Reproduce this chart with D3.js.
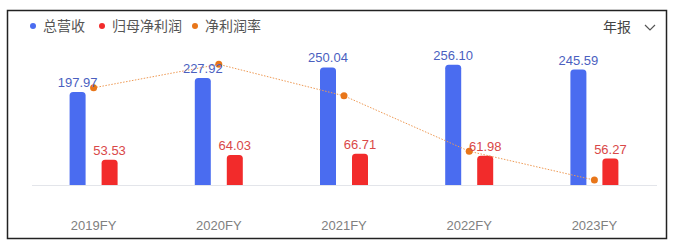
<!DOCTYPE html>
<html>
<head>
<meta charset="utf-8">
<script src="https://cdn.jsdelivr.net/npm/d3@7"></script>
<style>
  body { margin: 0; background: #fff; }
  text { font-family: Arial, "Liberation Sans", "Noto Sans CJK SC", sans-serif; }
</style>
</head>
<body>
<div id="chart"></div>
<script>
// data
var years = ["2019FY", "2020FY", "2021FY", "2022FY", "2023FY"];
var revenue = [197.97, 227.92, 250.04, 256.10, 245.59];
var netProfit = [53.53, 64.03, 66.71, 61.98, 56.27];
var netMargin = [27.04, 28.09, 26.68, 24.20, 22.91];
var legendNames = ["总营收", "归母净利润", "净利润率"];

var width = 673, height = 244;
var colors = { rev: "#4a6cf0", net: "#f22b2b", rate: "#e8761a" };

var svg = d3.select("#chart").append("svg")
  .attr("width", width)
  .attr("height", height);

// frame
svg.append("rect")
  .attr("x", 7.5).attr("y", 10.5)
  .attr("width", 659).attr("height", 228)
  .attr("fill", "#fff")
  .attr("stroke", "#222")
  .attr("stroke-width", 1.5);

var x = d3.scaleBand().domain(years).range([31, 657]);
var y = d3.scaleLinear().domain([0, 300]).range([185, 44]);
var yRate = d3.scaleLinear().domain([22.69, 29.0]).range([185, 44]);

var barW = 16, gap = 16;

// baseline
svg.append("line")
  .attr("x1", 32).attr("x2", 657)
  .attr("y1", y(0) + 0.5).attr("y2", y(0) + 0.5)
  .attr("stroke", "#e3e5ea");

// rounded-top bar path
function barPath(x0, top, w, bottom, r) {
  r = Math.min(r, (bottom - top));
  return "M" + x0 + "," + bottom +
    "V" + (top + r) +
    "Q" + x0 + "," + top + " " + (x0 + r) + "," + top +
    "H" + (x0 + w - r) +
    "Q" + (x0 + w) + "," + top + " " + (x0 + w) + "," + (top + r) +
    "V" + bottom + "Z";
}

function center(i) { return x(years[i]) + x.bandwidth() / 2; }

// revenue bars
svg.append("g").selectAll("path")
  .data(revenue).join("path")
  .attr("d", function (d, i) {
    return barPath(center(i) - gap / 2 - barW, y(d), barW, y(0), 3.5);
  })
  .attr("fill", colors.rev);

// net profit bars
svg.append("g").selectAll("path")
  .data(netProfit).join("path")
  .attr("d", function (d, i) {
    return barPath(center(i) + gap / 2, y(d), barW, y(0), 3.5);
  })
  .attr("fill", colors.net);

// margin line
var line = d3.line()
  .x(function (d, i) { return center(i); })
  .y(function (d) { return yRate(d); });

svg.append("path")
  .datum(netMargin)
  .attr("d", line)
  .attr("fill", "none")
  .attr("stroke", "#ee9a55")
  .attr("stroke-width", 1)
  .attr("stroke-dasharray", "1.5,1.5");

svg.append("g").selectAll("circle")
  .data(netMargin).join("circle")
  .attr("cx", function (d, i) { return center(i); })
  .attr("cy", function (d) { return yRate(d); })
  .attr("r", 3.5)
  .attr("fill", colors.rate);

// value labels
svg.append("g").selectAll("text")
  .data(revenue).join("text")
  .attr("x", function (d, i) { return center(i) - gap / 2 - barW / 2; })
  .attr("y", function (d) { return y(d) - 5; })
  .attr("text-anchor", "middle")
  .attr("font-size", 13)
  .attr("fill", "#4b5fbf")
  .text(function (d) { return d.toFixed(2); });

svg.append("g").selectAll("text")
  .data(netProfit).join("text")
  .attr("x", function (d, i) { return center(i) + gap / 2 + barW / 2; })
  .attr("y", function (d) { return y(d) - 5; })
  .attr("text-anchor", "middle")
  .attr("font-size", 13)
  .attr("fill", "#d94848")
  .text(function (d) { return d.toFixed(2); });

// x axis labels
svg.append("g").selectAll("text")
  .data(years).join("text")
  .attr("x", function (d, i) { return center(i); })
  .attr("y", 230)
  .attr("text-anchor", "middle")
  .attr("font-size", 13)
  .attr("fill", "#808080")
  .text(function (d) { return d; });

// legend
var legendX = [33, 102, 195];
var legendColors = [colors.rev, colors.net, colors.rate];
var legend = svg.append("g").selectAll("g")
  .data(legendNames).join("g")
  .attr("transform", function (d, i) { return "translate(" + legendX[i] + ",26)"; });
legend.append("circle").attr("r", 3).attr("fill", function (d, i) { return legendColors[i]; });
legend.append("text")
  .attr("x", 10).attr("y", 5)
  .attr("font-size", 14)
  .attr("fill", "#555")
  .text(function (d) { return d; });

// period selector
svg.append("text")
  .attr("x", 603).attr("y", 32)
  .attr("font-size", 14)
  .attr("fill", "#444")
  .text("年报");
svg.append("path")
  .attr("d", "M645,25 L650,30 L655,25")
  .attr("fill", "none")
  .attr("stroke", "#555")
  .attr("stroke-width", 1.2);
</script>
</body>
</html>
